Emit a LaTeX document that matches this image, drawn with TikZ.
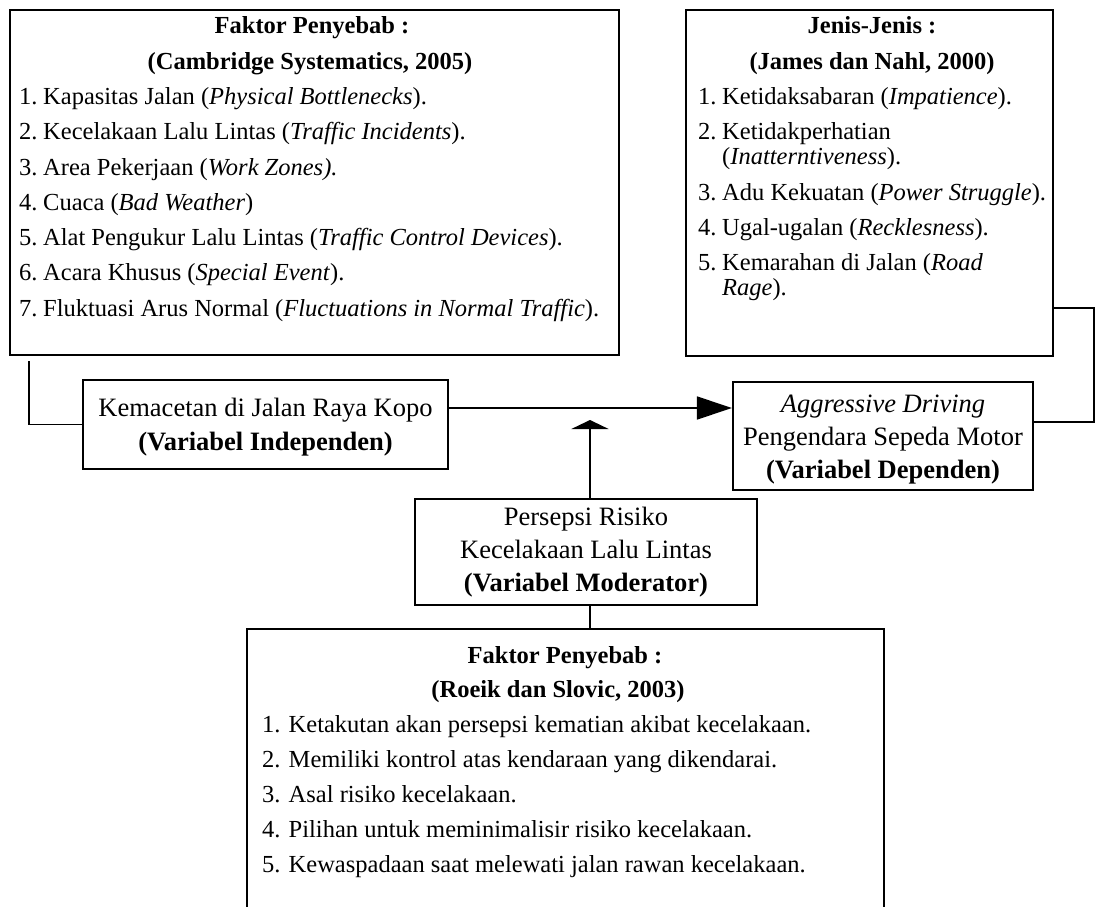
\documentclass[tikz,border=0pt]{standalone}
\usepackage{fontspec}
\setmainfont{Liberation Serif}
\usetikzlibrary{arrows.meta}
\newcommand{\listfont}{\fontsize{24.5}{29}\selectfont}
\newcommand{\itemno}[1]{\makebox[24pt][l]{#1}}

\begin{document}
\begin{tikzpicture}[x=1pt, y=-1pt,
  listbox/.style={draw, line width=2.2pt, inner sep=0pt},
  varbox/.style={draw, line width=2.2pt, inner sep=0pt, align=center},
  headtext/.style={anchor=base, inner sep=0pt, font=\listfont\bfseries},
  itemtext/.style={anchor=base west, inner sep=0pt, font=\listfont},
  link/.style={line width=1.3pt},
  flow/.style={line width=1.7pt, -{Triangle[length=35pt,width=23pt]}},
  modflow/.style={line width=2.7pt, -{Triangle[length=9pt,width=37pt]}}]
  \clip (0,0) rectangle (1096,907);

  % faktor penyebab kemacetan
  \node[listbox, minimum width=609pt, minimum height=345pt] (causeA) at (314.5,182.5) {};
  \node[headtext] (headA1) at (312,34) {Faktor Penyebab :};
  \node[headtext] (headA2) at (310,69.5) {(Cambridge Systematics, 2005)};
  \node[itemtext] (itemA1) at (19,104.5) {\itemno{1.}Kapasitas Jalan (\textit{Physical Bottlenecks}).};
  \node[itemtext] (itemA2) at (19,139.75) {\itemno{2.}Kecelakaan Lalu Lintas (\textit{Traffic Incidents}).};
  \node[itemtext] (itemA3) at (19,175) {\itemno{3.}Area Pekerjaan (\textit{Work Zones).}};
  \node[itemtext] (itemA4) at (19,210.25) {\itemno{4.}Cuaca (\textit{Bad Weather})};
  \node[itemtext] (itemA5) at (19,245.5) {\itemno{5.}Alat Pengukur Lalu Lintas (\textit{Traffic Control Devices}).};
  \node[itemtext] (itemA6) at (19,280.75) {\itemno{6.}Acara Khusus (\textit{Special Event}).};
  \node[itemtext] (itemA7) at (19,316) {\itemno{7.}Fluktuasi Arus Normal (\textit{Fluctuations in Normal Traffic}).};

  % jenis aggressive driving
  \node[listbox, minimum width=367pt, minimum height=346pt] (causeB) at (869.5,183) {};
  \node[headtext] (headB1) at (872,34) {Jenis-Jenis :};
  \node[headtext] (headB2) at (872,69.5) {(James dan Nahl, 2000)};
  \node[itemtext] (itemB1) at (698,104.5) {\itemno{1.}Ketidaksabaran (\textit{Impatience}).};
  \node[itemtext] (itemB2) at (698,139.75) {\itemno{2.}Ketidakperhatian};
  \node[itemtext] (itemB2b) at (722,164.5) {(\textit{Inatterntiveness}).};
  \node[itemtext] (itemB3) at (698,200) {\itemno{3.}Adu Kekuatan (\textit{Power Struggle}).};
  \node[itemtext] (itemB4) at (698,235) {\itemno{4.}Ugal-ugalan (\textit{Recklesness}).};
  \node[itemtext] (itemB5) at (698,270) {\itemno{5.}Kemarahan di Jalan (\textit{Road}};
  \node[itemtext] (itemB5b) at (722,295.5) {\textit{Rage}).};

  % variabel
  \node[varbox, minimum width=365pt, minimum height=89pt, font=\fontsize{26.5}{34}\selectfont] (kem) at (265.5,424.5)
    {\rule{0pt}{24pt}Kemacetan di Jalan Raya Kopo\\\textbf{(Variabel Independen)}};
  \node[varbox, minimum width=300pt, minimum height=108pt, font=\fontsize{26.5}{33}\selectfont] (agg) at (883,436)
    {\rule{0pt}{24pt}\textit{Aggressive Driving}\\Pengendara Sepeda Motor\\\textbf{(Variabel Dependen)}};
  \node[varbox, minimum width=342pt, minimum height=106pt, font=\fontsize{26.5}{33}\selectfont] (pers) at (586,552)
    {Persepsi Risiko\\Kecelakaan Lalu Lintas\\\textbf{(Variabel Moderator)}};

  % faktor persepsi risiko
  \node[listbox, minimum width=637pt, minimum height=311pt] (causeC) at (565.5,784.5) {};
  \node[headtext] (headC1) at (565,663) {Faktor Penyebab :};
  \node[headtext] (headC2) at (558,697.5) {(Roeik dan Slovic, 2003)};
  \node[itemtext] (itemC1) at (262,732) {1. Ketakutan akan persepsi kematian akibat kecelakaan.};
  \node[itemtext] (itemC2) at (262,767) {2. Memiliki kontrol atas kendaraan yang dikendarai.};
  \node[itemtext] (itemC3) at (262,802) {3. Asal risiko kecelakaan.};
  \node[itemtext] (itemC4) at (262,837) {4. Pilihan untuk meminimalisir risiko kecelakaan.};
  \node[itemtext] (itemC5) at (262,872) {5. Kewaspadaan saat melewati jalan rawan kecelakaan.};

  % connectors
  \coordinate (joinA) at (29,361);
  \coordinate (joinB1) at (1094,308);
  \coordinate (joinB2) at (1094,422);
  \coordinate (flowy) at (0,408);
  \coordinate (modtip) at (590,420);
  \draw[link] (joinA) |- (kem.west);
  \draw[link] (causeB.east |- joinB1) -- (joinB1) -- (joinB2) -- (agg.east |- joinB2);
  \draw[flow] (kem.east |- flowy) -- (agg.west |- flowy);
  \draw[modflow] (pers.north -| modtip) -- (modtip);
  \draw[link] (pers.south -| modtip) -- (causeC.north -| modtip);
\end{tikzpicture}
\end{document}
